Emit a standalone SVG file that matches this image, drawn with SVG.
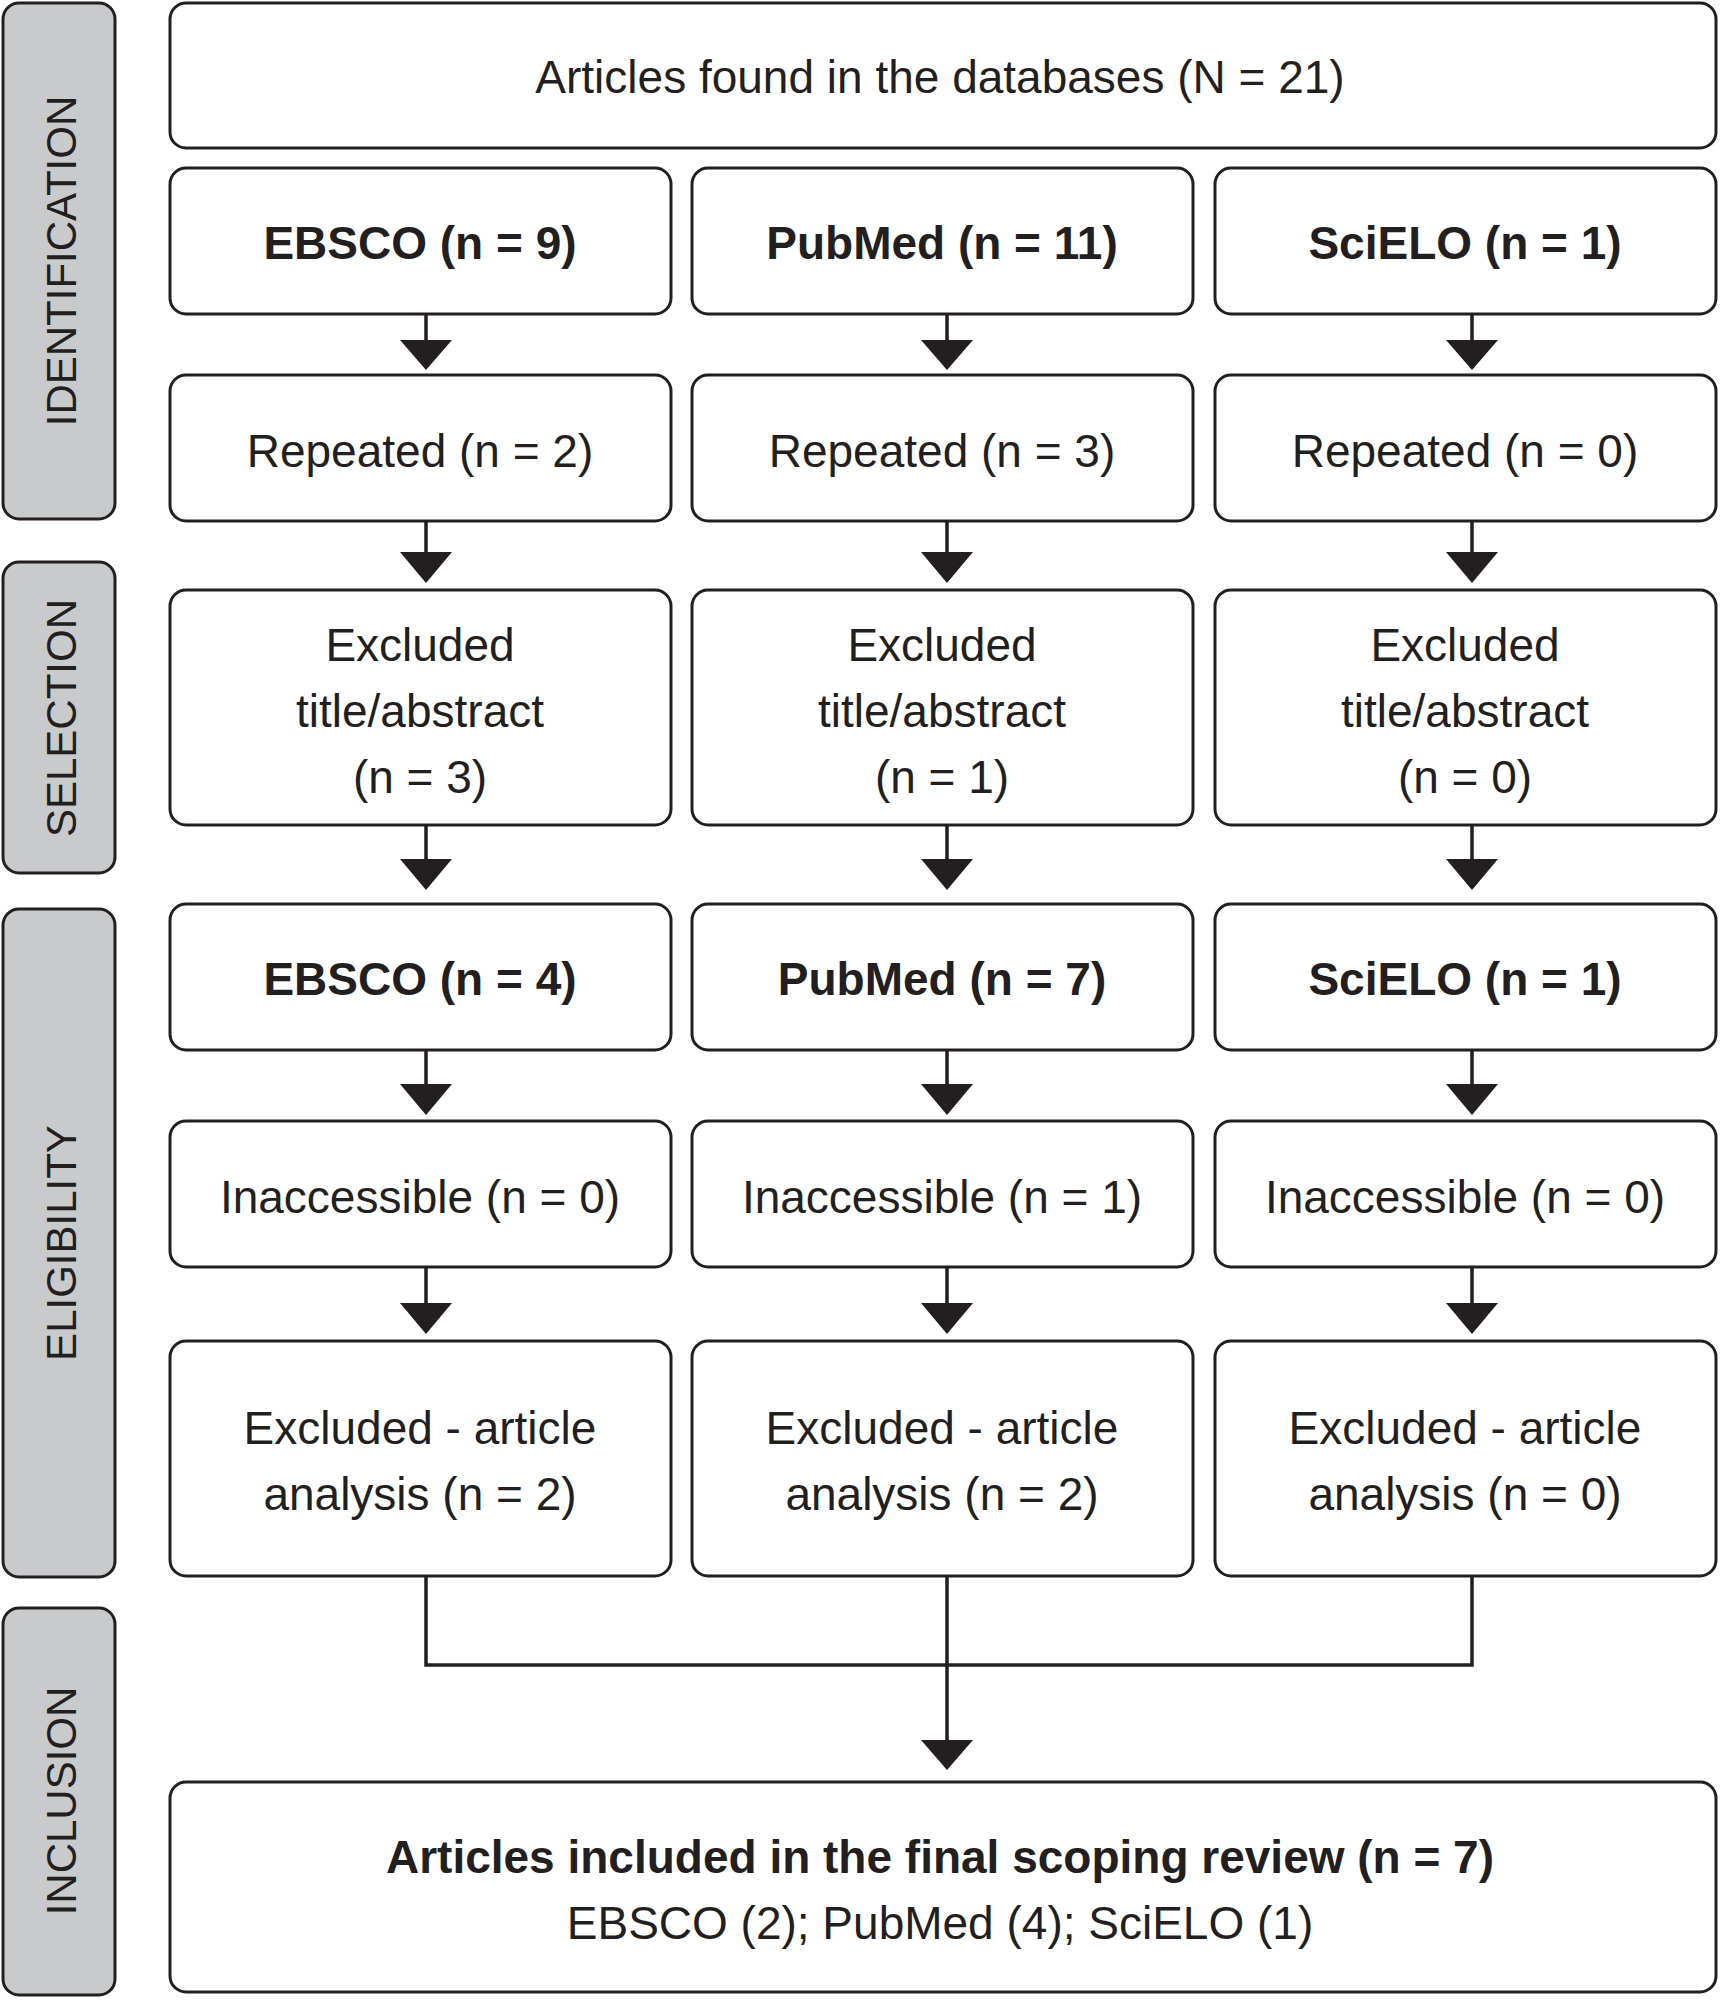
<svg xmlns="http://www.w3.org/2000/svg" width="1720" height="2000" viewBox="0 0 1720 2000">
<style>
.side{fill:#c9cacc;stroke:#231f20;stroke-width:3}
.box{fill:#fff;stroke:#231f20;stroke-width:3}
text{font-family:"Liberation Sans",Arial,sans-serif;fill:#231f20;text-anchor:middle;dominant-baseline:central;font-size:46px}
.b{font-weight:bold}
.st{font-size:42px}
.ln{stroke:#231f20;stroke-width:3.5;fill:none}
.ah{fill:#231f20}
</style>
<rect width="1720" height="2000" fill="#fff"/>
<g id="side-identification"><rect class="side" x="3" y="3" width="112" height="516" rx="16"/><text class="st" transform="translate(61,261) rotate(-90)">IDENTIFICATION</text></g>
<g id="side-selection"><rect class="side" x="3" y="562" width="112" height="311" rx="16"/><text class="st" transform="translate(61,718) rotate(-90)">SELECTION</text></g>
<g id="side-eligibility"><rect class="side" x="3" y="909" width="112" height="668" rx="16"/><text class="st" transform="translate(61,1243) rotate(-90)">ELIGIBILITY</text></g>
<g id="side-inclusion"><rect class="side" x="3" y="1608" width="112" height="387" rx="16"/><text class="st" transform="translate(61,1801) rotate(-90)">INCLUSION</text></g>

<g id="top"><rect class="box" x="170" y="3" width="1546" height="145" rx="16"/><text x="940" y="77">Articles found in the databases (N = 21)</text></g>

<g id="r1c1"><rect class="box" x="170" y="168" width="501" height="146" rx="16"/><text class="b" x="420" y="243">EBSCO (n = 9)</text></g>
<g id="r1c2"><rect class="box" x="692" y="168" width="501" height="146" rx="16"/><text class="b" x="942" y="243">PubMed (n = 11)</text></g>
<g id="r1c3"><rect class="box" x="1215" y="168" width="501" height="146" rx="16"/><text class="b" x="1465" y="243">SciELO (n = 1)</text></g>

<g id="r2c1"><rect class="box" x="170" y="375" width="501" height="146" rx="16"/><text x="420" y="451">Repeated (n = 2)</text></g>
<g id="r2c2"><rect class="box" x="692" y="375" width="501" height="146" rx="16"/><text x="942" y="451">Repeated (n = 3)</text></g>
<g id="r2c3"><rect class="box" x="1215" y="375" width="501" height="146" rx="16"/><text x="1465" y="451">Repeated (n = 0)</text></g>

<g id="r3c1"><rect class="box" x="170" y="590" width="501" height="235" rx="16"/><text x="420" y="645">Excluded</text><text x="420" y="711">title/abstract</text><text x="420" y="777">(n = 3)</text></g>
<g id="r3c2"><rect class="box" x="692" y="590" width="501" height="235" rx="16"/><text x="942" y="645">Excluded</text><text x="942" y="711">title/abstract</text><text x="942" y="777">(n = 1)</text></g>
<g id="r3c3"><rect class="box" x="1215" y="590" width="501" height="235" rx="16"/><text x="1465" y="645">Excluded</text><text x="1465" y="711">title/abstract</text><text x="1465" y="777">(n = 0)</text></g>

<g id="r4c1"><rect class="box" x="170" y="904" width="501" height="146" rx="16"/><text class="b" x="420" y="979">EBSCO (n = 4)</text></g>
<g id="r4c2"><rect class="box" x="692" y="904" width="501" height="146" rx="16"/><text class="b" x="942" y="979">PubMed (n = 7)</text></g>
<g id="r4c3"><rect class="box" x="1215" y="904" width="501" height="146" rx="16"/><text class="b" x="1465" y="979">SciELO (n = 1)</text></g>

<g id="r5c1"><rect class="box" x="170" y="1121" width="501" height="146" rx="16"/><text x="420" y="1197">Inaccessible (n = 0)</text></g>
<g id="r5c2"><rect class="box" x="692" y="1121" width="501" height="146" rx="16"/><text x="942" y="1197">Inaccessible (n = 1)</text></g>
<g id="r5c3"><rect class="box" x="1215" y="1121" width="501" height="146" rx="16"/><text x="1465" y="1197">Inaccessible (n = 0)</text></g>

<g id="r6c1"><rect class="box" x="170" y="1341" width="501" height="235" rx="16"/><text x="420" y="1428">Excluded - article</text><text x="420" y="1494">analysis (n = 2)</text></g>
<g id="r6c2"><rect class="box" x="692" y="1341" width="501" height="235" rx="16"/><text x="942" y="1428">Excluded - article</text><text x="942" y="1494">analysis (n = 2)</text></g>
<g id="r6c3"><rect class="box" x="1215" y="1341" width="501" height="235" rx="16"/><text x="1465" y="1428">Excluded - article</text><text x="1465" y="1494">analysis (n = 0)</text></g>

<g id="final"><rect class="box" x="170" y="1782" width="1546" height="210" rx="16"/><text class="b" x="940" y="1857">Articles included in the final scoping review (n = 7)</text><text x="940" y="1923">EBSCO (2); PubMed (4); SciELO (1)</text></g>

<g id="connectors">
<path class="ln" d="M426 314V345M947 314V345M1472 314V345M426 521V555M947 521V555M1472 521V555M426 825V860M947 825V860M1472 825V860M426 1050V1086M947 1050V1086M1472 1050V1086M426 1267V1306M947 1267V1306M1472 1267V1306M426 1576V1665H1472V1576M947 1576V1746"/>
<g class="ah">
<polygon points="400,340 452,340 426,370"/><polygon points="921,340 973,340 947,370"/><polygon points="1446,340 1498,340 1472,370"/>
<polygon points="400,552 452,552 426,583"/><polygon points="921,552 973,552 947,583"/><polygon points="1446,552 1498,552 1472,583"/>
<polygon points="400,859 452,859 426,890"/><polygon points="921,859 973,859 947,890"/><polygon points="1446,859 1498,859 1472,890"/>
<polygon points="400,1084 452,1084 426,1115"/><polygon points="921,1084 973,1084 947,1115"/><polygon points="1446,1084 1498,1084 1472,1115"/>
<polygon points="400,1303 452,1303 426,1334"/><polygon points="921,1303 973,1303 947,1334"/><polygon points="1446,1303 1498,1303 1472,1334"/>
<polygon points="921,1740 973,1740 947,1770"/>
</g>
</g>
</svg>
